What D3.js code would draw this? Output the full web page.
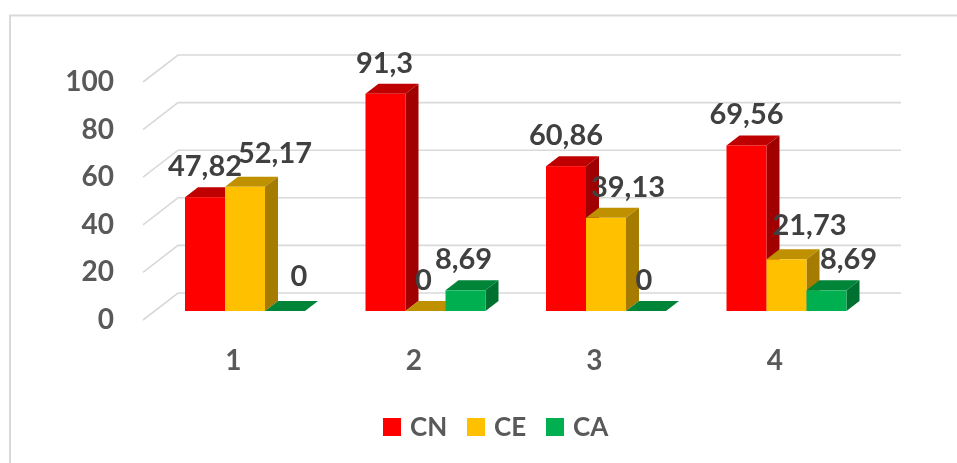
<!DOCTYPE html>
<html>
<head>
<meta charset="utf-8">
<script src="https://cdn.jsdelivr.net/npm/d3@7"></script>
<style>
  html, body { margin: 0; padding: 0; background: #fff; overflow: hidden; }
  svg { display: block; filter: blur(0.4px); }
  text { font-family: Lato, "Open Sans", sans-serif; font-weight: 700; }
</style>
</head>
<body>
<svg width="957" height="463"></svg>
<script>
const categories = ["1", "2", "3", "4"];
const seriesNames = ["CN", "CE", "CA"];
const cnValues = [47.82, 91.3, 60.86, 69.56];
const ceValues = [52.17, 0, 39.13, 21.73];
const caValues = [0, 8.69, 0, 8.69];
const yTicks = [0, 20, 40, 60, 80, 100];

const values = [cnValues, ceValues, caValues];
const front = ["#ff0000", "#ffc000", "#00b050"];
const top_ = ["#bf0000", "#bf9000", "#008437"];
const side = ["#a00000", "#a67c00", "#007030"];

const svg = d3.select("svg");

// bars sit half way into the floor, the wall is further back
const barDx = 13, barDy = 10;
const wallDx = 35, wallDy = 27;
const wallLift = 18;

const x0 = d3.scaleBand().domain(categories).range([144, 866]);
const x1 = d3.scaleBand().domain(seriesNames).range([0, 120]);
const y = d3.scaleLinear().domain([0, 100]).range([311, 73]);
const barsLeft = 41;

// chart frame, runs off the right and bottom of the crop
svg.append("path")
  .attr("d", "M10,463V15.5H957")
  .attr("fill", "none")
  .attr("stroke", "#d9d9d9")
  .attr("stroke-width", 2);

// wall + side gridlines
const wallLeft = 178, wallRight = 901;
svg.append("g").selectAll("path")
  .data(yTicks)
  .join("path")
  .attr("d", d => {
    const gy = y(d) - wallLift;
    return `M${wallLeft - wallDx},${gy + wallDy}L${wallLeft},${gy}H${wallRight}`;
  })
  .attr("fill", "none")
  .attr("stroke", "#d9d9d9")
  .attr("stroke-width", 1.6);

// y tick labels
svg.append("g").selectAll("text")
  .data(yTicks)
  .join("text")
  .attr("x", 114)
  .attr("y", d => y(d) - wallLift + wallDy + 9)
  .attr("text-anchor", "end")
  .attr("font-size", 28)
  .attr("fill", "#595959")
  .text(d => d);

// category labels
svg.append("g").selectAll("text")
  .data(categories)
  .join("text")
  .attr("x", d => x0(d) + x0.bandwidth() / 2 - 1)
  .attr("y", 370)
  .attr("text-anchor", "middle")
  .attr("font-size", 28)
  .attr("fill", "#595959")
  .text(d => d);

// the bars, series order inside a group so next front covers previous side
categories.forEach((cat, g) => {
  seriesNames.forEach((name, s) => {
    const v = values[s][g];
    const bx = x0(cat) + barsLeft + x1(name);
    const w = x1.bandwidth();
    const by = y(v);
    const bar = svg.append("g");
    bar.append("path")
      .attr("d", `M${bx},${by}l${barDx},${-barDy}h${w}l${-barDx},${barDy}z`)
      .attr("fill", top_[s]);
    bar.append("path")
      .attr("d", `M${bx + w},${by}l${barDx},${-barDy}V${y(0) - barDy}l${-barDx},${barDy}z`)
      .attr("fill", side[s]);
    bar.append("rect")
      .attr("x", bx)
      .attr("y", by)
      .attr("width", w)
      .attr("height", y(0) - by)
      .attr("fill", front[s]);
  });
});

// hand moved labels from the original, [dx, dy], key = group-series
const labelMoves = {
  "0-1": [30, -3], "0-2": [14, -4],
  "1-0": [-1, 0], "1-1": [-2, 0], "1-2": [-2, 0],
  "2-1": [22, 0], "2-2": [-2, 0],
  "3-1": [23, -3], "3-2": [22, 0]
};

categories.forEach((cat, g) => {
  seriesNames.forEach((name, s) => {
    const v = values[s][g];
    const mv = labelMoves[g + "-" + s] || [0, 0];
    svg.append("text")
      .attr("x", x0(cat) + barsLeft + x1(name) + x1.bandwidth() / 2 + mv[0])
      .attr("y", y(v) - 21 + mv[1])
      .attr("text-anchor", "middle")
      .attr("font-size", 29)
      .attr("fill", "#404040")
      .text(String(v).replace(".", ","));
  });
});

// legend
const legendX = [383, 467, 546];
const legend = svg.append("g").selectAll("g")
  .data(seriesNames)
  .join("g")
  .attr("transform", (d, i) => `translate(${legendX[i]},418)`);
legend.append("rect")
  .attr("width", 18)
  .attr("height", 18)
  .attr("fill", (d, i) => front[i]);
legend.append("text")
  .attr("x", 27)
  .attr("y", 18)
  .attr("font-size", 26)
  .attr("fill", "#595959")
  .text(d => d);
</script>
</body>
</html>
